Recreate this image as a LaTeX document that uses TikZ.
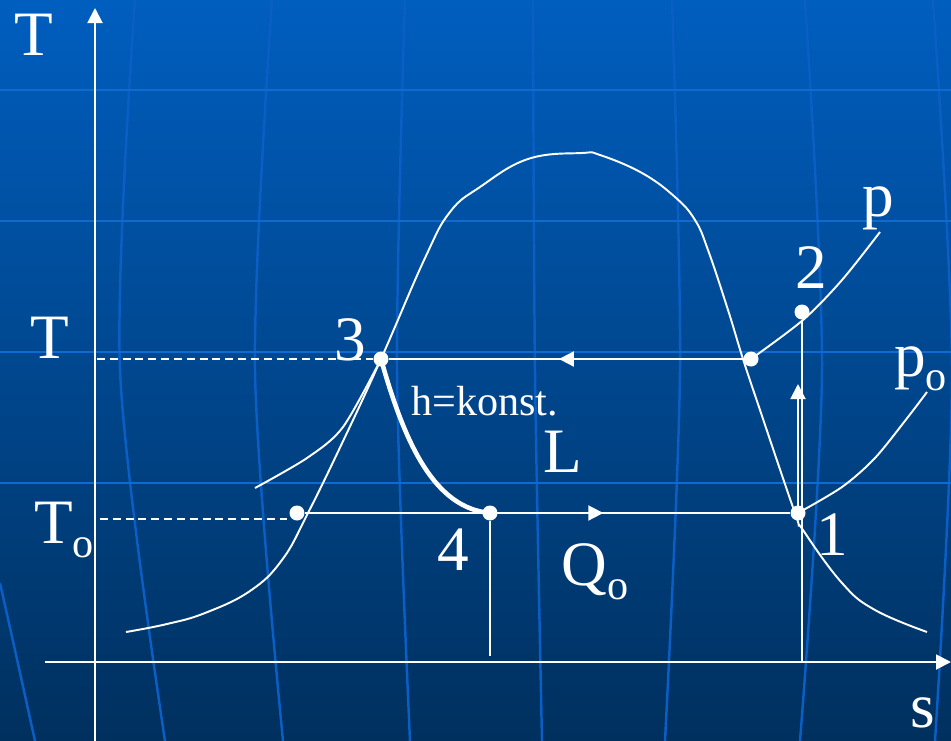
\documentclass[tikz,border=0pt]{standalone}
\usepackage{fontspec}
\setmainfont{Liberation Serif}
\usetikzlibrary{arrows.meta,decorations.markings}
\definecolor{BgTop}{HTML}{005EBF}
\definecolor{BgBottom}{HTML}{00305E}
\definecolor{GridBlue}{HTML}{0F6AD2}
\definecolor{GridFaint}{HTML}{0A5EC4}
\newcommand{\idx}[1]{\raisebox{-8pt}{\fontsize{24}{24}\selectfont #1}}

\begin{document}
\begin{tikzpicture}[x=0.02cm, y=-0.02cm,
    curve/.style={draw=white, line width=1.1pt},
    thickcurve/.style={draw=white, line width=2.6pt},
    guide/.style={draw=white, line width=1.1pt, dash pattern=on 4.5pt off 2.8pt},
    dot/.style={circle, fill=white, inner sep=0pt, minimum size=0.3cm},
    lbl/.style={text=white, inner sep=0pt, font=\fontsize{36}{36}\selectfont},
    smalllbl/.style={text=white, inner sep=0pt, font=\fontsize{24}{24}\selectfont},
    arrow/.style={curve, -{Triangle[length=0.3cm, width=0.3cm]}},
    midarrow/.style={curve, postaction={decorate}, decoration={markings,
        mark=at position #1 with {\arrow{Triangle[length=0.3cm, width=0.3cm]}}}},
    gridrule/.style={draw=GridBlue, line width=1.4pt},
    gridcurve/.style={draw=GridFaint, line width=1.4pt},
]
    % background
    \useasboundingbox (0,0) rectangle (951,741);
    \fill[top color=BgTop, bottom color=BgBottom] (0,0) rectangle (951,741);
    \foreach \a/\b/\c in {135/120/165, 272/255/283, 405/397/410, 533/535/542, 672/680/665, 805/822/800, 933/952/935}
        \draw[gridcurve] plot[smooth] coordinates {(\a,0) (\b,370) (\c,741)};
    \draw[gridcurve] (0,583) .. controls (15,650) .. (35,741);
    \foreach \y in {90,221,352,483}
        \draw[gridrule] (0,\y) -- (951,\y);

    % axes
    \coordinate (Tbot) at (95,741);
    \coordinate (Ttop) at (95,8);
    \coordinate (sleft) at (45,662);
    \coordinate (sright) at (951,662);
    \draw[arrow] (Tbot) -- (Ttop);
    \draw[arrow] (sleft) -- (sright);

    % state points
    \node[dot] (p3) at (381,359) {};
    \node[dot] (pb) at (751,359) {};
    \node[dot] (p2) at (802,312) {};
    \node[dot] (p1) at (798,513) {};
    \node[dot] (p4) at (490,513) {};
    \node[dot] (pl) at (297,513) {};

    % saturation curve
    \draw[curve] plot[smooth, tension=0.7] coordinates {(126,632) (167,624) (205,613) (250,591)
        (282,560) (308,513) (345,437) (381,359) (425,258) (450,212) (480,187) (528,159) (582,153)
        (600,155) (642,173) (675,197) (695,220) (708,250) (728,310) (743,359) (760,410) (795,513)
        (803,530) (842,583) (875,610) (927,632)};

    % isobars
    \draw[curve] plot[smooth] coordinates {(255,488) (307,458) (343,427) (p3.center)};
    \draw[curve] plot[smooth] coordinates {(pb.center) (803,320) (842,280) (880,232)};
    \draw[curve] plot[smooth] coordinates {(p1.center) (842,487) (875,458) (908,417) (927,392)};

    % cycle
    \draw[thickcurve] (p3.center) .. controls (405,445) and (435,508) .. (p4.center);
    \draw[midarrow=0.52] (pb) -- (p3);
    \draw[midarrow=0.615] (pl) -- (p1);
    \coordinate (up1) at (798,384);
    \draw[arrow] (p1.center) -- (up1);
    \coordinate (s2) at (802,662);
    \draw[curve] (s2) -- (p2);
    \coordinate (s4) at (490,656);
    \draw[curve] (p4) -- (s4);

    % temperature guides
    \coordinate (gT) at (97,359);
    \coordinate (gTo) at (100,519);
    \coordinate (gToend) at (291,519);
    \draw[guide] (gT) -- (p3.west);
    \draw[guide] (gTo) -- (gToend);

    % labels
    \node[lbl, anchor=base] (labT) at (34,55) {T};
    \node[lbl, anchor=base] (labTc) at (50,358) {T};
    \node[lbl, anchor=base west] (labTo) at (34,543) {T\idx{o}};
    \node[lbl, anchor=base] (lab3) at (350,360) {3};
    \node[lbl, anchor=base] (lab4) at (453,570) {4};
    \node[lbl, anchor=base] (lab1) at (832,555) {1};
    \node[lbl, anchor=base] (lab2) at (811,288) {2};
    \node[lbl, anchor=base] (labp) at (878,216) {p};
    \node[lbl, anchor=base west] (labpo) at (894,376) {p\idx{o}};
    \node[lbl, anchor=base west] (labL) at (543,472) {L};
    \node[lbl, anchor=base west] (labQo) at (561,585) {Q\idx{o}};
    \node[smalllbl, anchor=base west] (labh) at (411,415) {h=konst.};
    \node[lbl, anchor=base] (labs) at (923,727) {s};
\end{tikzpicture}
\end{document}
